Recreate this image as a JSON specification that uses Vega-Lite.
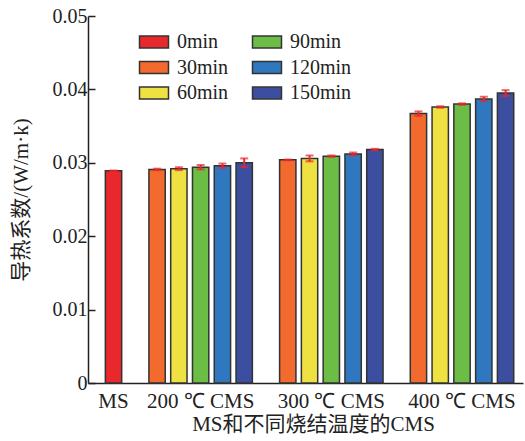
{
  "$schema": "https://vega.github.io/schema/vega-lite/v6.json",
  "width": 435,
  "height": 367,
  "autosize": "none",
  "padding": {"left": 88, "top": 16, "right": 2, "bottom": 58},
  "background": "white",
  "config": {
    "font": "Liberation Serif, Noto Sans CJK SC",
    "view": {"stroke": null},
    "axis": {"labelFont": "Liberation Serif", "titleFont": "Liberation Serif, Noto Sans CJK SC", "labelColor": "#222", "titleColor": "#222", "domainColor": "#222", "tickColor": "#222", "domainWidth": 1.5, "tickWidth": 1.5, "grid": false, "titleFontWeight": "normal"}
  },
  "data": {
    "values": [
      {"bar": "MS 0min", "sample": "MS", "time": "0min", "value": 0.0289, "err": 0.00005},
      {"bar": "200 30min", "sample": "200 ℃ CMS", "time": "30min", "value": 0.0291, "err": 0.0001},
      {"bar": "200 60min", "sample": "200 ℃ CMS", "time": "60min", "value": 0.0292, "err": 0.0002},
      {"bar": "200 90min", "sample": "200 ℃ CMS", "time": "90min", "value": 0.0294, "err": 0.0003},
      {"bar": "200 120min", "sample": "200 ℃ CMS", "time": "120min", "value": 0.0296, "err": 0.0003},
      {"bar": "200 150min", "sample": "200 ℃ CMS", "time": "150min", "value": 0.0300, "err": 0.0006},
      {"bar": "300 30min", "sample": "300 ℃ CMS", "time": "30min", "value": 0.0304, "err": 0.00005},
      {"bar": "300 60min", "sample": "300 ℃ CMS", "time": "60min", "value": 0.0306, "err": 0.0004},
      {"bar": "300 90min", "sample": "300 ℃ CMS", "time": "90min", "value": 0.0309, "err": 0.0001},
      {"bar": "300 120min", "sample": "300 ℃ CMS", "time": "120min", "value": 0.0312, "err": 0.0002},
      {"bar": "300 150min", "sample": "300 ℃ CMS", "time": "150min", "value": 0.0318, "err": 0.0001},
      {"bar": "400 30min", "sample": "400 ℃ CMS", "time": "30min", "value": 0.0367, "err": 0.0003},
      {"bar": "400 60min", "sample": "400 ℃ CMS", "time": "60min", "value": 0.0376, "err": 0.0001},
      {"bar": "400 90min", "sample": "400 ℃ CMS", "time": "90min", "value": 0.0380, "err": 0.0001},
      {"bar": "400 120min", "sample": "400 ℃ CMS", "time": "120min", "value": 0.0387, "err": 0.0003},
      {"bar": "400 150min", "sample": "400 ℃ CMS", "time": "150min", "value": 0.0395, "err": 0.0004}
    ]
  },
  "encoding": {
    "x": {
      "field": "bar",
      "type": "nominal",
      "sort": null,
      "scale": {
        "domain": ["MS 0min", "gap1", "200 30min", "200 60min", "200 90min", "200 120min", "200 150min", "gap2", "300 30min", "300 60min", "300 90min", "300 120min", "300 150min", "gap3", "400 30min", "400 60min", "400 90min", "400 120min", "400 150min"],
        "paddingInner": 0.25,
        "paddingOuter": 0.611,
        "align": 0.652
      },
      "axis": {
        "title": "MS和不同烧结温度的CMS",
        "titleFontSize": 21,
        "titlePadding": 2,
        "titleX": 225,
        "labelAngle": 0,
        "labelFontSize": 21,
        "labelPadding": 7,
        "labelOverlap": false,
        "labelBound": false,
        "ticks": false,
        "labelExpr": "datum.value == 'MS 0min' ? 'MS' : datum.value == '200 90min' ? '200 ℃ CMS' : datum.value == '300 90min' ? '300 ℃ CMS' : datum.value == '400 90min' ? '400 ℃ CMS' : ''"
      }
    },
    "y": {
      "field": "value",
      "type": "quantitative",
      "scale": {"domain": [0, 0.05], "nice": false},
      "axis": {
        "title": "导热系数/(W/m·k)",
        "titleFontSize": 21,
        "titlePadding": 21,
        "values": [0, 0.01, 0.02, 0.03, 0.04, 0.05],
        "labelExpr": "datum.value == 0 ? '0' : format(datum.value, '.2f')",
        "labelFontSize": 20,
        "labelPadding": 8,
        "tickSize": -7
      }
    }
  },
  "layer": [
    {
      "mark": {"type": "bar", "stroke": "#333", "strokeWidth": 1.5},
      "encoding": {
        "fill": {
          "field": "time",
          "type": "nominal",
          "scale": {
            "domain": ["0min", "30min", "60min", "90min", "120min", "150min"],
            "range": ["#e8282a", "#f26a2e", "#efe142", "#6cbd45", "#2f78c0", "#3b4ea0"]
          },
          "legend": {
            "orient": "none",
            "legendX": 56,
            "legendY": 16,
            "columns": 2,
            "title": null,
            "padding": 0,
            "symbolType": "M-2,-0.82H2V0.82H-2Z",
            "symbolSize": 210,
            "symbolStrokeColor": "#333",
            "symbolStrokeWidth": 1.5,
            "symbolOpacity": 1,
            "labelFont": "Liberation Serif",
            "labelFontSize": 20,
            "labelColor": "#222",
            "labelOffset": 13,
            "rowPadding": 5.5,
            "columnPadding": 20
          }
        }
      }
    },
    {
      "mark": {"type": "errorbar", "color": "#e8262a", "thickness": 2, "ticks": {"size": 8, "thickness": 2, "color": "#e8262a"}},
      "encoding": {
        "y": {"field": "value", "type": "quantitative", "title": "导热系数/(W/m·k)"},
        "yError": {"field": "err"}
      }
    }
  ]
}
